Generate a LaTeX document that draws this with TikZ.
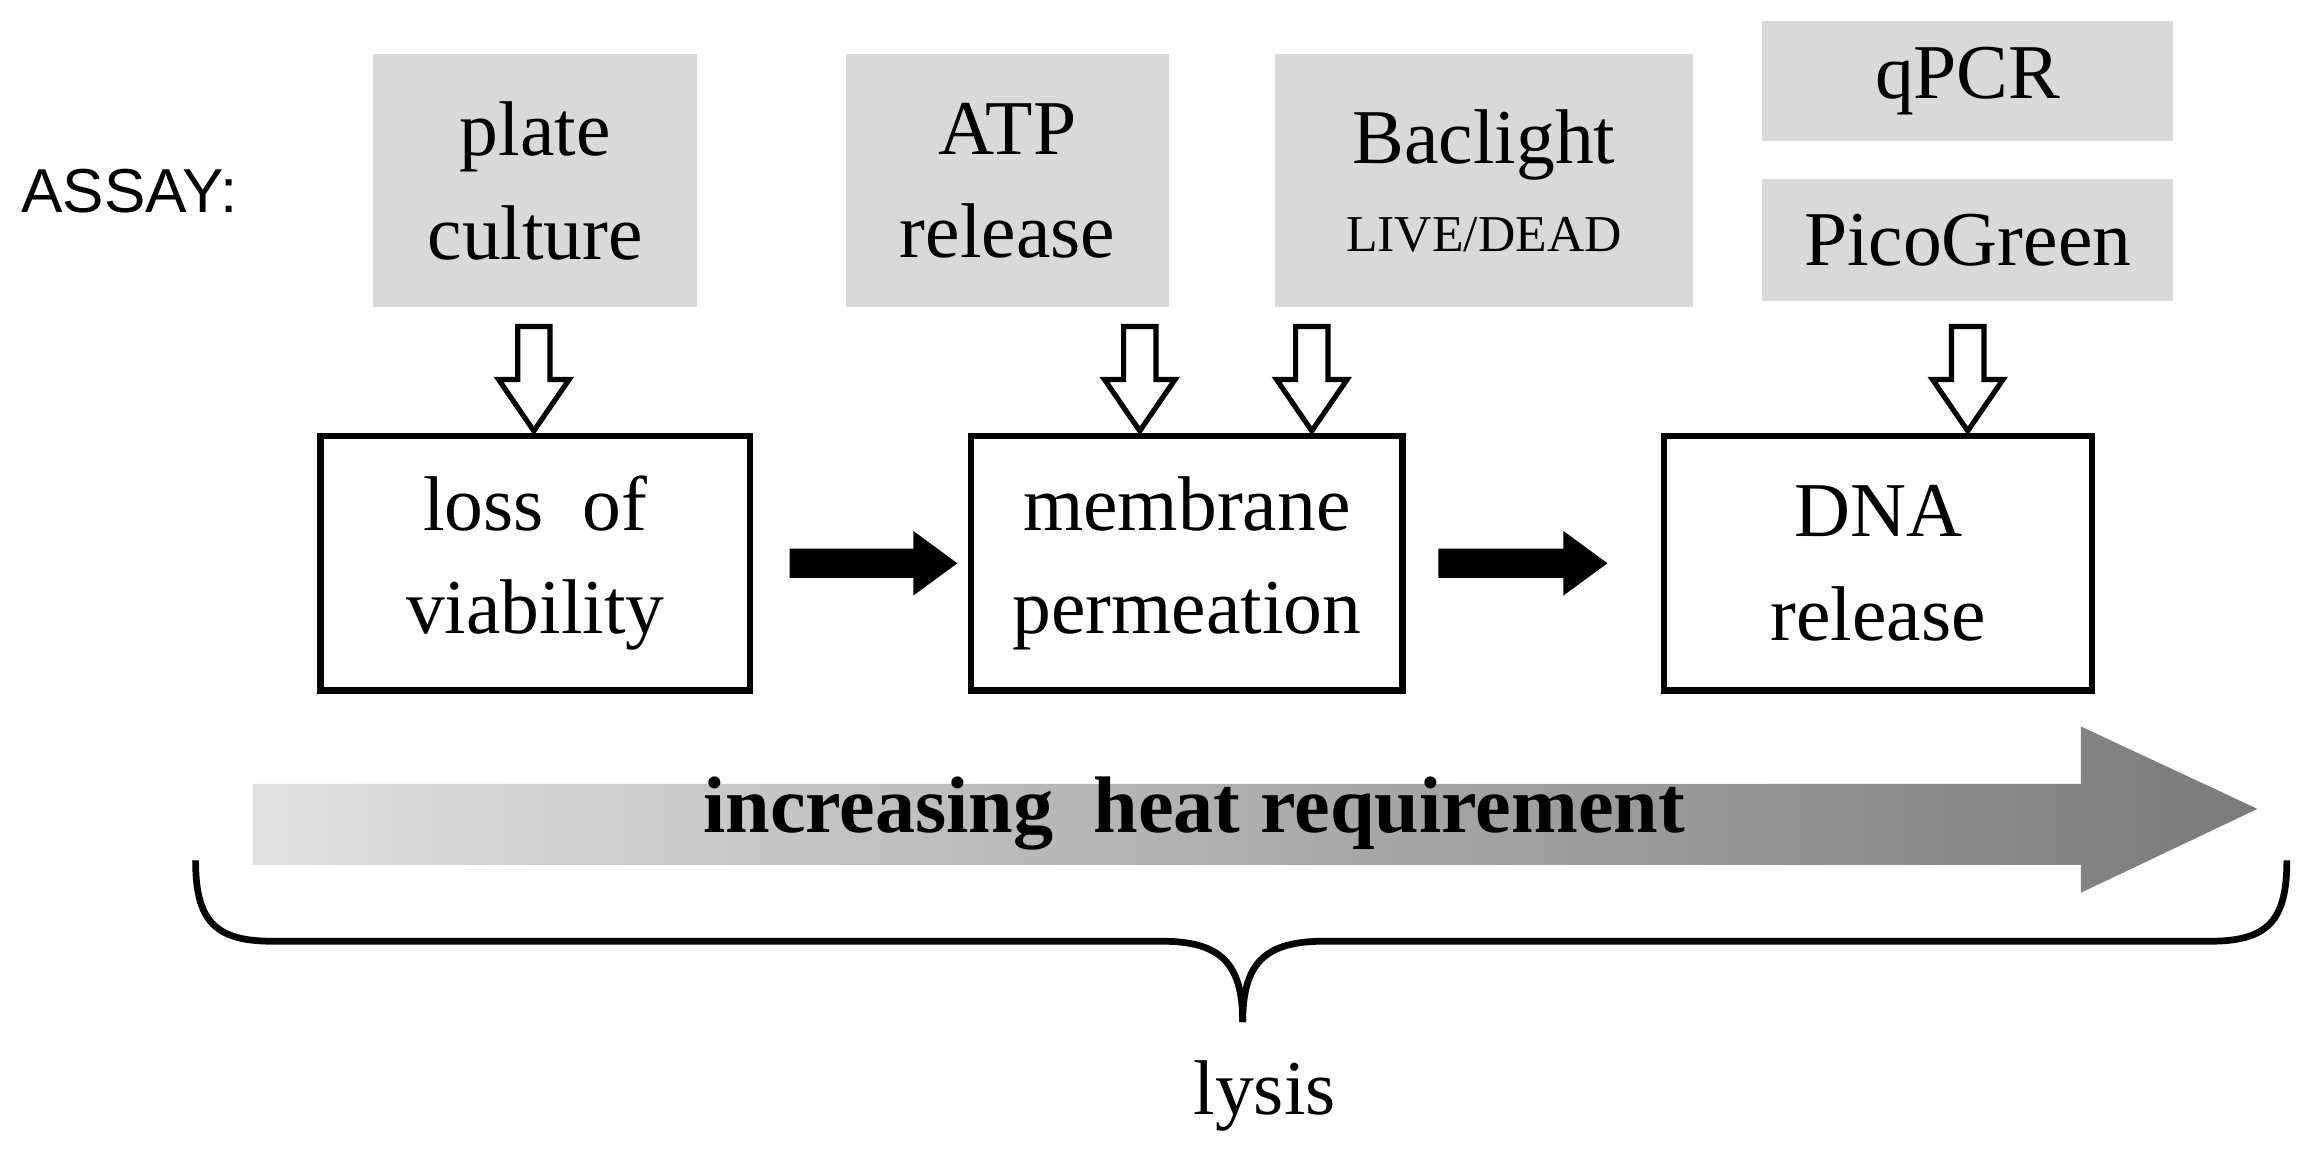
\documentclass[tikz,border=0pt]{standalone}
\usepackage{fontspec}
\usetikzlibrary{calc}
\setmainfont{Liberation Serif}
\newfontfamily\sansf{Liberation Sans}
\begin{document}
\begin{tikzpicture}[x=0.01cm,y=-0.01cm,
  gbox/.style={fill=black!15,draw=none,inner sep=0pt,align=center,font=\fontsize{15}{20}\selectfont},
  wbox/.style={draw,line width=1.2pt,inner sep=0pt,align=center,font=\fontsize{15}{20}\selectfont},
  hollow/.style={draw,line width=1pt,fill=white}]
\useasboundingbox (0,0) rectangle (1568,787);
\node[font=\sansf\fontsize{12}{14}\selectfont] (assay) at (88,130) {ASSAY:};
\node[gbox,minimum width=2.2cm,minimum height=1.72cm] (pc) at (364,123) {plate\\culture};
\node[gbox,minimum width=2.2cm,minimum height=1.72cm] (atp) at (685,123) {ATP\\release};
\node[gbox,minimum width=2.84cm,minimum height=1.72cm] (bac) at (1009,123) {Baclight\\[-3pt]{\fontsize{10}{11}\selectfont LIVE/DEAD}};
\node[gbox,minimum width=2.79cm,minimum height=0.82cm] (qpcr) at (1338,55) {qPCR};
\node[gbox,minimum width=2.79cm,minimum height=0.83cm] (pico) at (1338,163) {PicoGreen};
\node[wbox,minimum width=2.92cm,minimum height=1.73cm] (loss) at (364,383) {loss\ \ of\\viability};
\node[wbox,minimum width=2.93cm,minimum height=1.73cm] (mem) at (807,383) {membrane\\permeation};
\node[wbox,minimum width=2.91cm,minimum height=1.73cm] (dna) at (1277,383) {DNA\\release};
% hollow arrows
\foreach \x in {363,775,892,1338}{
  \draw[hollow] (\x-11,222) -- (\x+11,222) -- (\x+11,258) -- (\x+24,258) -- (\x,293) -- (\x-24,258) -- (\x-11,258) -- cycle;
}
% black arrows
\coordinate (a1) at (537,383); \coordinate (a2) at (651,383);
\coordinate (b1) at (978,383); \coordinate (b2) at (1093,383);
\foreach \s/\e in {a1/a2,b1/b2}{
  \fill ($(\s)+(0,-10)$) -- ($(\e)+(-30,-10)$) -- ($(\e)+(-30,-22)$) -- (\e) -- ($(\e)+(-30,22)$) -- ($(\e)+(-30,10)$) -- ($(\s)+(0,10)$) -- cycle;
}
% gradient arrow
\shade[left color=black!12,right color=black!52] (172,533) -- (1415,533) -- (1415,494) -- (1535,550) -- (1415,607) -- (1415,588) -- (172,588) -- cycle;
\node[font=\bfseries\fontsize{15.5}{17}\selectfont] (heat) at (812,553) {increasing\ \ heat requirement};
% brace
\draw[line width=1.3pt] (133,585) .. controls (133,625) and (145,640) .. (185,640) -- (790,640) .. controls (830,640) and (845,655) .. (845,695);
\draw[line width=1.3pt] (1555,585) .. controls (1555,625) and (1543,640) .. (1503,640) -- (900,640) .. controls (860,640) and (845,655) .. (845,695);
\node[font=\fontsize{15}{16}\selectfont] (lysis) at (860,745) {lysis};
\end{tikzpicture}
\end{document}
